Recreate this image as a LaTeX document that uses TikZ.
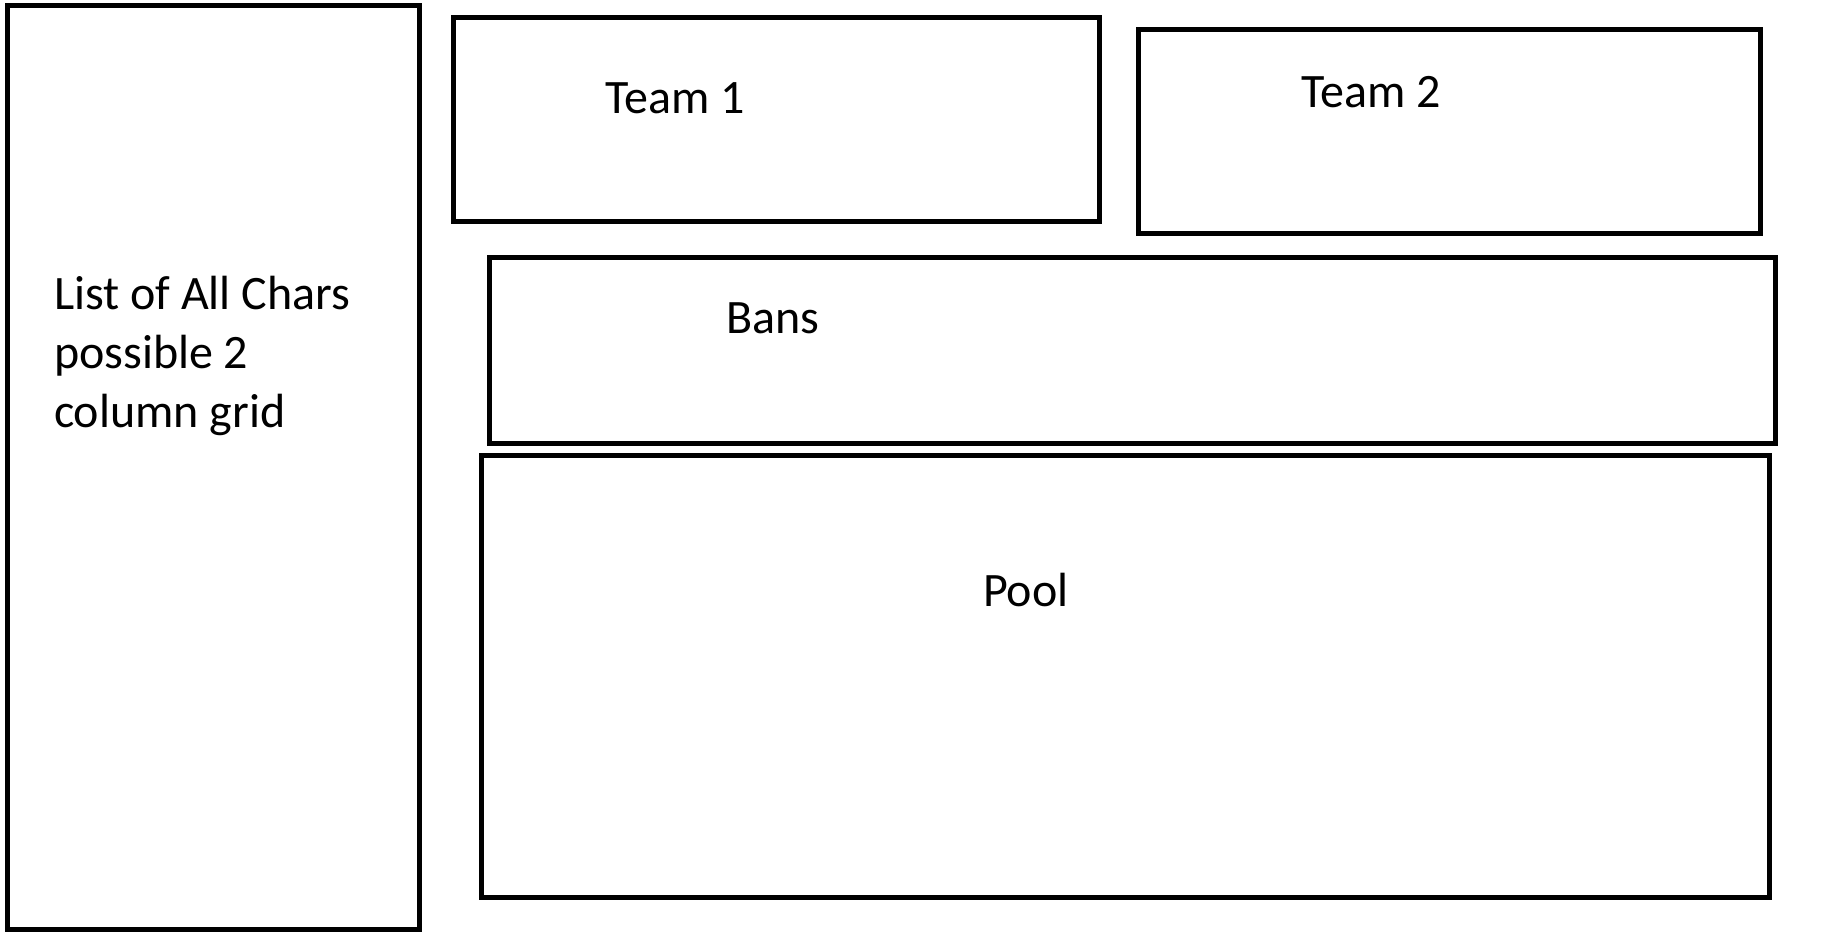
\documentclass[tikz,border=0pt]{standalone}
\usepackage{fontspec}
\setmainfont{Carlito}
\begin{document}
\begin{tikzpicture}[x=1pt,y=-1pt,
  panel/.style={draw=black, line width=5pt, rectangle, inner sep=0pt, outer sep=0pt, anchor=north west},
  lbl/.style={inner sep=0pt, outer sep=0pt, anchor=base west, font=\fontsize{48}{58.6}\selectfont}]
\useasboundingbox (0,0) rectangle (1840,948);
\node[panel, minimum width=412pt, minimum height=923.6pt] (chars) at (7.3,5.7) {};
\node[panel, minimum width=646pt, minimum height=203.7pt] (team1) at (453,17.3) {};
\node[panel, minimum width=622.7pt, minimum height=203.3pt] (team2) at (1138,29.7) {};
\node[panel, minimum width=1286.6pt, minimum height=185.3pt] (bans) at (489,257.7) {};
\node[panel, minimum width=1288.1pt, minimum height=442.2pt] (pool) at (481.5,455.5) {};
\node[lbl] (tchars1) at (54,309.3) {List of All Chars};
\node[lbl] (tchars2) at (54,368.3) {possible 2};
\node[lbl] (tchars3) at (54,427) {column grid};
\node[lbl] (tteam1) at (605.5,113) {Team 1};
\node[lbl] (tteam2) at (1301,107.3) {Team 2};
\node[lbl] (tbans) at (726.5,333) {Bans};
\node[lbl] (tpool) at (983,606.7) {Pool};
\end{tikzpicture}
\end{document}
